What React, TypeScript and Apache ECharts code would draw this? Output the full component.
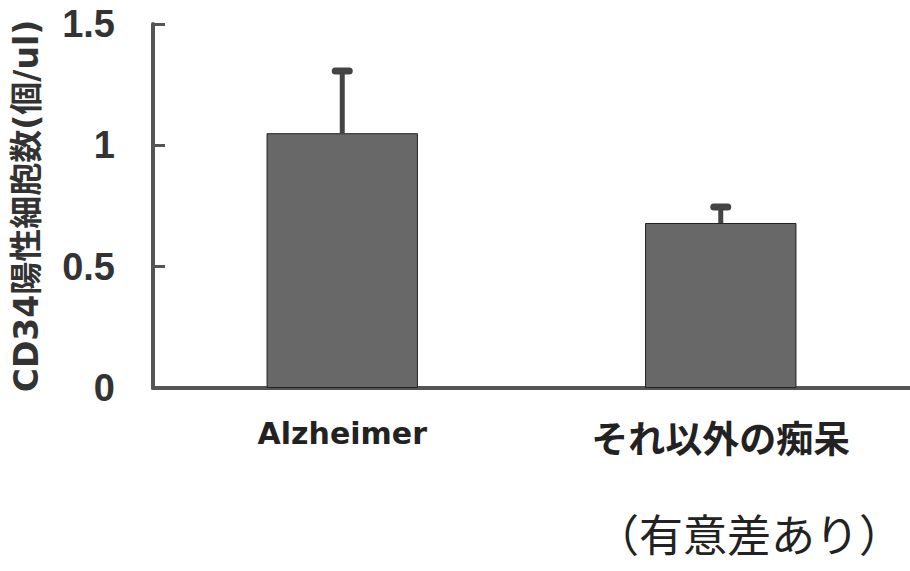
import React, { useEffect, useRef } from "react";
import * as echarts from "echarts";

const categories = ["Alzheimer", "それ以外の痴呆"];
const means = [1.05, 0.68];
const errorTops = [1.31, 0.75];
const yTicks = [0, 0.5, 1, 1.5];
const yAxisName = "CD34陽性細胞数(個/ul)";
const note = "（有意差あり）";

export default function App() {
  const ref = useRef<HTMLDivElement>(null);
  useEffect(() => {
    if (!ref.current) return;
    const chart = echarts.init(ref.current, null, { renderer: "svg" });
    const errData = categories.map((c, i) => [i, means[i], errorTops[i]]);
    chart.setOption({
      animation: false,
      backgroundColor: "#ffffff",
      grid: {
        left: 153,
        right: 0,
        top: 24,
        bottom: 183,
        containLabel: false,
        outerBoundsMode: "none",
      },
      xAxis: {
        type: "category",
        data: categories,
        axisTick: { show: false },
        axisLine: { lineStyle: { color: "#555", width: 4 } },
        axisLabel: {
          margin: 30,
          formatter: (v: string, i: number) => (i === 0 ? `{a|${v}}` : `{j|${v}}`),
          rich: {
            a: {
              fontFamily: "DejaVu Sans",
              fontWeight: "bold",
              fontSize: 30,
              color: "#222",
            },
            j: {
              fontFamily: "Noto Sans CJK JP",
              fontWeight: "bold",
              fontSize: 37,
              color: "#222",
            },
          },
        },
      },
      yAxis: {
        type: "value",
        min: yTicks[0],
        max: yTicks[yTicks.length - 1],
        interval: yTicks[1] - yTicks[0],
        splitLine: { show: false },
        axisLine: { show: true, lineStyle: { color: "#555", width: 4 } },
        axisTick: { show: true, inside: true, length: 12, lineStyle: { color: "#555", width: 3 } },
        axisLabel: {
          margin: 38,
          fontFamily: "Liberation Sans",
          fontWeight: "bold",
          fontSize: 38,
          color: "#333",
        },
        name: yAxisName,
        nameLocation: "middle",
        nameRotate: 90,
        nameGap: 110,
        nameTextStyle: {
          fontFamily: "DejaVu Sans, Noto Sans CJK JP",
          fontWeight: "bold",
          fontSize: 33,
          color: "#333",
        },
      },
      series: [
        {
          type: "bar",
          data: means,
          barWidth: "40%",
          itemStyle: { color: "#686868", borderColor: "#222", borderWidth: 1 },
          z: 2,
        },
        {
          type: "custom",
          data: errData,
          z: 3,
          renderItem: (params: any, api: any) => {
            const x = api.value(0);
            const base = api.coord([x, api.value(1)]);
            const top = api.coord([x, api.value(2)]);
            return {
              type: "group",
              children: [
                {
                  type: "line",
                  shape: { x1: base[0], y1: base[1], x2: top[0], y2: top[1] },
                  style: { stroke: "#444", lineWidth: 5 },
                },
                {
                  type: "line",
                  shape: { x1: top[0] - 7, y1: top[1] + 1, x2: top[0] + 7, y2: top[1] + 1 },
                  style: { stroke: "#444", lineWidth: 7, lineCap: "round" },
                },
              ],
            };
          },
        },
      ],
      graphic: [
        {
          type: "text",
          left: 595,
          top: 515,
          style: {
            text: note,
            fontFamily: "Liberation Serif, Noto Sans CJK JP",
            fontSize: 44,
            fill: "#222",
          },
        },
      ],
    });
    return () => chart.dispose();
  }, []);
  return (
    <div
      ref={ref}
      style={{ position: "fixed", left: 0, top: 0, width: 910, height: 571 }}
    />
  );
}
